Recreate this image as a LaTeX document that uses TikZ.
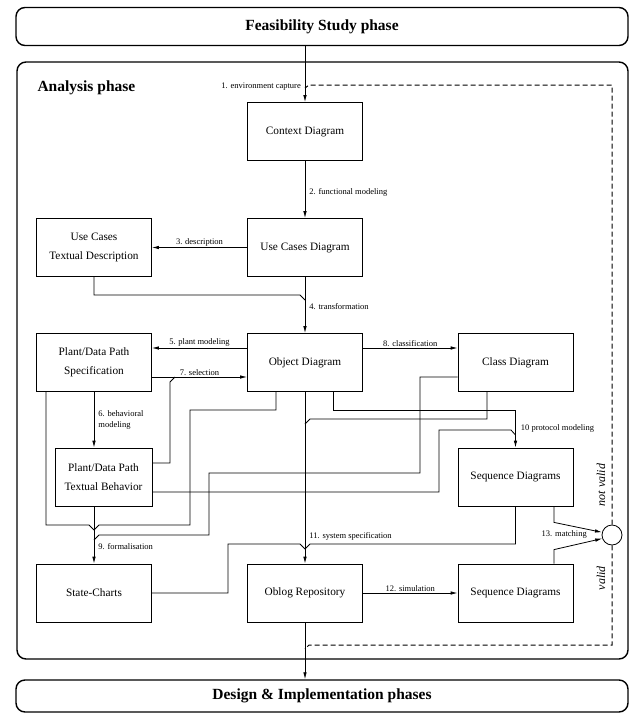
\documentclass[tikz,border=0pt]{standalone}
\usepackage{fontspec}
\setmainfont{Liberation Serif}
\usetikzlibrary{arrows.meta}

\begin{document}
\begin{tikzpicture}[x=1pt,y=-1pt,
	phase/.style={draw,line width=1.4pt,rounded corners=9pt},
	head/.style={font=\bfseries\fontsize{15.5}{18}\selectfont},
	box/.style={draw,line width=.8pt,minimum width=115pt,minimum height=58pt,align=center,font=\fontsize{11.3}{19}\selectfont},
	lbl/.style={font=\fontsize{8.5}{11}\selectfont,inner sep=1pt},
	arr/.style={line width=.8pt,-{Latex[length=7pt,width=3.5pt]}},
	ln/.style={line width=.8pt},
	fb/.style={line width=1pt,dash pattern=on 5pt off 3pt}]
	\useasboundingbox(0,0)rectangle(631,713);
	% phases
	\node[phase,head,minimum width=612pt,minimum height=38pt](feas)at(322,26.5){Feasibility Study phase};
	\draw[phase](17,62)rectangle(628,659);
	\node[head,anchor=west](ana)at(34,88){Analysis phase};
	\node[phase,head,minimum width=612pt,minimum height=32pt](des)at(322,696){Design \& Implementation phases};
	% models
	\node[box](ctx)at(305,131.5){Context Diagram};
	\node[box](ucd)at(305,247.5){Use Cases Diagram};
	\node[box](uctd)at(94,247.5){Use Cases\\Textual Description};
	\node[box](od)at(305,362.5){Object Diagram};
	\node[box](pdps)at(94,362.5){Plant/Data Path\\Specification};
	\node[box](cd)at(515.5,362.5){Class Diagram};
	\node[box,minimum width=97pt](pdptb)at(103.5,477){Plant/Data Path\\Textual Behavior};
	\node[box](sdu)at(515.5,477){Sequence Diagrams};
	\node[box](sc)at(94,593){State-Charts};
	\node[box](ob)at(305,593){Oblog Repository};
	\node[box](sdl)at(515.5,593){Sequence Diagrams};
	\node[draw,circle,line width=.8pt,minimum size=20pt,inner sep=0pt](match)at(612,535){};
	\coordinate(j1)at(305,88);
	\coordinate(j2)at(305,649);
	% 1-4
	\draw[arr](feas.south-|ctx.north)--(ctx.north);
	\node[lbl,anchor=east](l1)at(302,87){1. environment capture};
	\draw[fb](match.north)|-(309,85)--(j1);
	\draw[arr](ctx)--node[lbl,anchor=west,xshift=3pt,pos=.55](l2){2. functional modeling}(ucd);
	\draw[arr](ucd.west)--node[lbl,above](l3){3. description}(uctd.east);
	\draw[arr](ucd)--node[lbl,anchor=west,xshift=3pt,pos=.52](l4){4. transformation}(od);
	\draw[ln](uctd.south)|-(300,295)--(305,300);
	% 5-8
	\draw[arr]([yshift=14.5pt]od.west)--node[lbl,above](l5){5. plant modeling}([yshift=14.5pt]pdps.east);
	\draw[arr](pdps)--node[lbl,anchor=west,align=left,xshift=3pt](l6){6. behavioral\\modeling}(pdps.south|-pdptb.north);
	\draw[arr]([yshift=-14.5pt]pdps.east)--node[lbl,above](l7){7. selection}([yshift=-14.5pt]od.west);
	\draw[ln]([yshift=14pt]pdptb.east)-|(170,382)--(175,377);
	\draw[arr]([yshift=14.5pt]od.east)--node[lbl,above](l8){8. classification}([yshift=14.5pt]cd.west);
	% 9
	\draw[arr](pdps.south|-pdptb.south)--node[lbl,anchor=west,xshift=3pt,pos=.7](l9){9. formalisation}(sc.north);
	\draw[ln]([xshift=-48pt]pdps.south)|-(89,525)--(94,530);
	\draw[ln]([xshift=-29pt]od.south)|-(190,410)|-(99,525)--(94,530);
	\draw[ln]([yshift=-14.5pt]cd.west)-|(420,473)-|(209,535)--(99,535)--(94,540);
	% 10
	\draw[arr]([xshift=28pt]od.south)|-(sdu.north|-0,410)--node[lbl,anchor=west,xshift=4pt](l10){10 protocol modeling}(sdu.north);
	\draw[ln]([yshift=-15pt]pdptb.east)-|(439,430)--(511,430)--(sdu.north|-0,435);
	% 11
	\draw[arr](od)--node[lbl,anchor=west,xshift=3pt,pos=.84](l11){11. system specification}(ob);
	\draw[ln]([xshift=-28.5pt]cd.south)|-(310,419)--(305,424);
	\draw[ln](sdu.south)|-(310,544)--(305,549);
	\draw[ln](sc.east)-|(228,544)--(300,544)--(305,549);
	% 12-13
	\draw[arr](ob)--node[lbl,above](l12){12. simulation}(sdl);
	\draw[arr]([xshift=38.5pt]sdu.south)--++(0,16)--(match.165);
	\draw[arr]([xshift=38.5pt]sdl.north)--++(0,-14)--(match.200);
	\node[lbl,anchor=east](l13)at(588,534){13. matching};
	\node[rotate=90,font=\itshape\fontsize{12}{14}\selectfont](nv)at(601,485){not valid};
	\node[rotate=90,font=\itshape\fontsize{12}{14}\selectfont](va)at(601,578){valid};
	\draw[fb](match.south)|-(309,645)--(j2);
	\draw[arr](ob)--(ob|-des.north);
\end{tikzpicture}
\end{document}
